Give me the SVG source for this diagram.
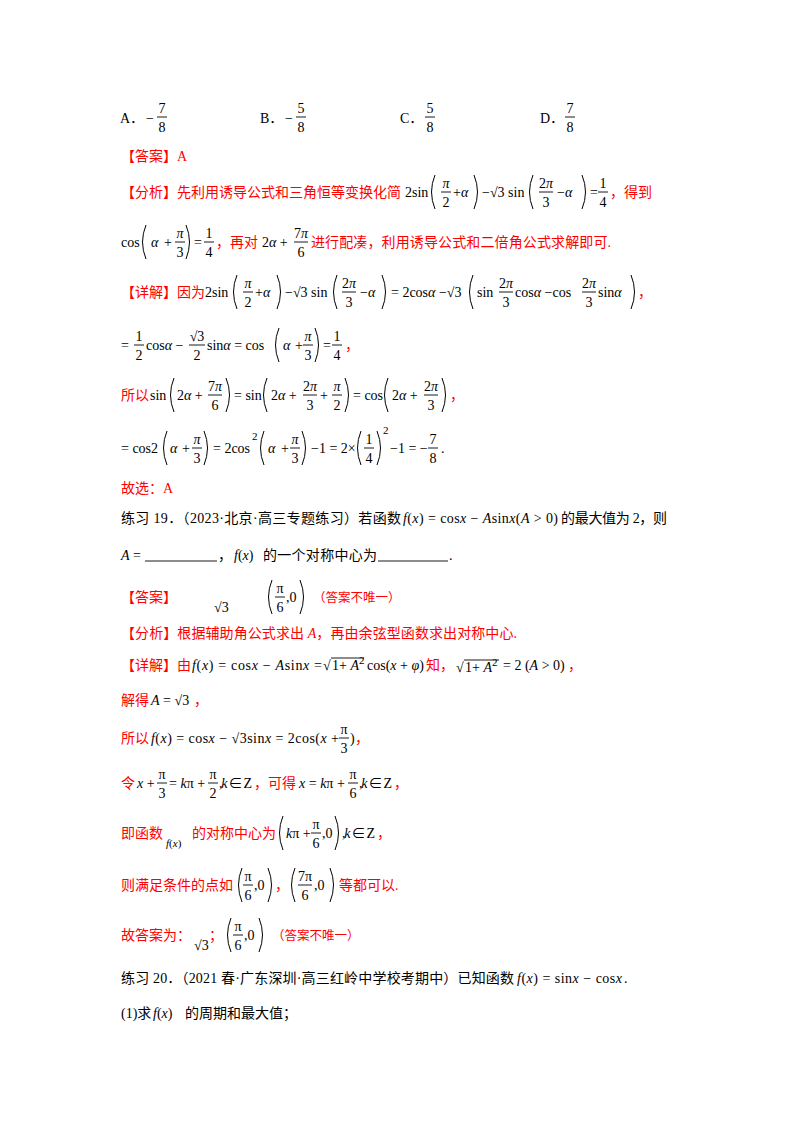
<svg xmlns="http://www.w3.org/2000/svg" xmlns:xlink="http://www.w3.org/1999/xlink" width="800" height="1132" viewBox="0 0 800 1132">
<style>
text{font-family:"Liberation Serif","Noto Sans CJK SC",serif;font-size:14px;fill:#000}
.r{fill:#f00}
.i{font-style:italic}
.n{font-size:14px;text-anchor:middle}
.s{font-size:11px}
.u{font-size:12.5px}
line{stroke:#000;stroke-width:0.9}
.p{fill:none;stroke:#000;stroke-width:1}
</style>
<defs>
<path id="L" class="p" d="M3,-17 q-7,17 0,34"/>
<path id="R" class="p" d="M-3,-17 q7,17 0,34"/>
</defs>
<rect width="800" height="1132" fill="#fff"/>
<g id="options">
<text x="120" y="123">A．</text><text x="146" y="123">−</text><text class="n" x="162" y="113">7</text><line x1="157" x2="167" y1="117" y2="117"/><text class="n" x="162" y="132">8</text>
<text x="260" y="123">B．</text><text x="285" y="123">−</text><text class="n" x="301" y="113">5</text><line x1="296" x2="306" y1="117" y2="117"/><text class="n" x="301" y="132">8</text>
<text x="400" y="123">C．</text><text class="n" x="430" y="113">5</text><line x1="425" x2="435" y1="117" y2="117"/><text class="n" x="430" y="132">8</text>
<text x="540" y="123">D．</text><text class="n" x="570" y="113">7</text><line x1="565" x2="575" y1="117" y2="117"/><text class="n" x="570" y="132">8</text>
</g>
<g id="ans1"><text class="r" x="121" y="161">【答案】A</text></g>
<g id="ana1">
<text class="r" x="121" y="197" textLength="280">【分析】先利用诱导公式和三角恒等变换化简</text>
<text x="405" y="197">2sin</text><use href="#L" x="432" y="192"/><text class="n i" x="446" y="188">π</text><line x1="441" x2="451" y1="192" y2="192"/><text class="n" x="446" y="207">2</text>
<text x="453" y="197">+<tspan class="i">α</tspan></text><use href="#R" x="477" y="192"/>
<text x="482" y="197">−√3 sin</text><use href="#L" x="530" y="192"/><text class="n" x="546" y="188">2<tspan class="i">π</tspan></text><line x1="539" x2="553" y1="192" y2="192"/><text class="n" x="546" y="207">3</text>
<text x="557" y="197">−<tspan class="i">α</tspan></text><use href="#R" x="585" y="192"/><text x="590" y="197">=</text>
<text class="n" x="603" y="188">1</text><line x1="598" x2="608" y1="192" y2="192"/><text class="n" x="603" y="207">4</text>
<text class="r" x="610" y="197">，得到</text>
<text x="121" y="247">cos</text><use href="#L" x="143" y="242"/><text class="i" x="151" y="247">α</text><text x="164" y="247">+</text>
<text class="n i" x="180" y="238">π</text><line x1="175" x2="185" y1="242" y2="242"/><text class="n" x="180" y="257">3</text><use href="#R" x="189" y="242"/>
<text x="194" y="247">=</text><text class="n" x="209" y="238">1</text><line x1="204" x2="214" y1="242" y2="242"/><text class="n" x="209" y="257">4</text>
<text class="r" x="216" y="247">，再对</text><text x="262" y="247">2<tspan class="i">α</tspan> +</text>
<text class="n" x="301" y="238">7<tspan class="i">π</tspan></text><line x1="294" x2="308" y1="242" y2="242"/><text class="n" x="301" y="257">6</text>
<text class="r" x="311" y="247" textLength="300">进行配凑，利用诱导公式和二倍角公式求解即可.</text>
</g>
<g id="detail1">
<text class="r" x="121" y="297">【详解】因为</text>
<text x="205" y="297">2sin</text><use href="#L" x="234" y="292"/><text class="n i" x="248" y="288">π</text><line x1="243" x2="253" y1="292" y2="292"/><text class="n" x="248" y="307">2</text>
<text x="255" y="297">+<tspan class="i">α</tspan></text><use href="#R" x="280" y="292"/>
<text x="285" y="297">−√3 sin</text><use href="#L" x="334" y="292"/><text class="n" x="349" y="288">2<tspan class="i">π</tspan></text><line x1="342" x2="356" y1="292" y2="292"/><text class="n" x="349" y="307">3</text>
<text x="360" y="297">−<tspan class="i">α</tspan></text><use href="#R" x="385" y="292"/>
<text x="391" y="297">= 2cos<tspan class="i">α</tspan> −√3</text><use href="#L" x="470" y="292"/>
<text x="477" y="297">sin</text><text class="n" x="506" y="288">2<tspan class="i">π</tspan></text><line x1="499" x2="513" y1="292" y2="292"/><text class="n" x="506" y="307">3</text>
<text x="515" y="297">cos<tspan class="i">α</tspan> −cos</text><text class="n" x="589" y="288">2<tspan class="i">π</tspan></text><line x1="582" x2="596" y1="292" y2="292"/><text class="n" x="589" y="307">3</text>
<text x="598" y="297">sin<tspan class="i">α</tspan></text><use href="#R" x="634" y="292"/><text class="r" x="638" y="297">，</text>
<text x="121" y="350">=</text><text class="n" x="139" y="341">1</text><line x1="134" x2="144" y1="345" y2="345"/><text class="n" x="139" y="360">2</text>
<text x="146" y="350">cos<tspan class="i">α</tspan> −</text>
<text class="n" x="197" y="341">√3</text><line x1="189" x2="205" y1="345" y2="345"/><text class="n" x="197" y="360">2</text>
<text x="207" y="350">sin<tspan class="i">α</tspan> = cos</text><use href="#L" x="276" y="345"/><text class="i" x="283" y="350">α</text><text x="295" y="350">+</text>
<text class="n i" x="308" y="341">π</text><line x1="303" x2="313" y1="345" y2="345"/><text class="n" x="308" y="360">3</text><use href="#R" x="318" y="345"/>
<text x="323" y="350">=</text><text class="n" x="337" y="341">1</text><line x1="332" x2="342" y1="345" y2="345"/><text class="n" x="337" y="360">4</text><text class="r" x="345" y="350">，</text>
<text class="r" x="121" y="400">所以</text><text x="150" y="400">sin</text><use href="#L" x="171" y="395"/><text x="177" y="400">2<tspan class="i">α</tspan> +</text>
<text class="n" x="215" y="391">7<tspan class="i">π</tspan></text><line x1="208" x2="222" y1="395" y2="395"/><text class="n" x="215" y="410">6</text><use href="#R" x="229" y="395"/>
<text x="234" y="400">= sin</text><use href="#L" x="264" y="395"/><text x="271" y="400">2<tspan class="i">α</tspan> +</text>
<text class="n" x="310" y="391">2<tspan class="i">π</tspan></text><line x1="303" x2="317" y1="395" y2="395"/><text class="n" x="310" y="410">3</text><text x="320" y="400">+</text>
<text class="n i" x="337" y="391">π</text><line x1="332" x2="342" y1="395" y2="395"/><text class="n" x="337" y="410">2</text><use href="#R" x="348" y="395"/>
<text x="353" y="400">= cos</text><use href="#L" x="385" y="395"/><text x="392" y="400">2<tspan class="i">α</tspan> +</text>
<text class="n" x="431" y="391">2<tspan class="i">π</tspan></text><line x1="424" x2="438" y1="395" y2="395"/><text class="n" x="431" y="410">3</text><use href="#R" x="445" y="395"/><text class="r" x="450" y="400">，</text>
<text x="121" y="453">= cos2</text><use href="#L" x="164" y="448"/><text class="i" x="170" y="453">α</text><text x="182" y="453">+</text>
<text class="n i" x="197" y="444">π</text><line x1="192" x2="202" y1="448" y2="448"/><text class="n" x="197" y="463">3</text><use href="#R" x="207" y="448"/>
<text x="213" y="453">= 2cos</text><text class="s" x="252" y="440">2</text><use href="#L" x="261" y="448"/><text class="i" x="268" y="453">α</text><text x="281" y="453">+</text>
<text class="n i" x="295" y="444">π</text><line x1="290" x2="300" y1="448" y2="448"/><text class="n" x="295" y="463">3</text><use href="#R" x="305" y="448"/>
<text x="311" y="453">−1 = 2×</text><use href="#L" x="358" y="448"/><text class="n" x="369" y="444">1</text><line x1="364" x2="374" y1="448" y2="448"/><text class="n" x="369" y="463">4</text><use href="#R" x="380" y="448"/>
<text class="s" x="383" y="434">2</text><text x="390" y="453">−1 = −</text>
<text class="n" x="433" y="444">7</text><line x1="428" x2="438" y1="448" y2="448"/><text class="n" x="433" y="463">8</text><text x="441" y="453">.</text>
<text class="r" x="121" y="493">故选：A</text>
</g>
<g id="q19">
<text x="121" y="523" textLength="280">练习 19．（2023·北京·高三专题练习）若函数</text>
<text class="i" x="403" y="523" textLength="155"><tspan>f</tspan><tspan font-style="normal">(</tspan>x<tspan font-style="normal">) = cos</tspan>x<tspan font-style="normal"> − </tspan>A<tspan font-style="normal">sin</tspan>x<tspan font-style="normal">(</tspan>A<tspan font-style="normal"> &gt; 0)</tspan></text>
<text x="561" y="523" textLength="106">的最大值为 2，则</text>
<text class="i" x="121" y="560">A<tspan font-style="normal"> =</tspan></text><line x1="145" x2="217" y1="561" y2="561"/>
<text x="218" y="560">，</text><text class="i" x="234" y="560">f<tspan font-style="normal">(</tspan>x<tspan font-style="normal">)</tspan></text>
<text x="263" y="560" textLength="114">的一个对称中心为</text><line x1="378" x2="448" y1="561" y2="561"/><text x="449" y="560">.</text>
</g>
<g id="ans19">
<text class="r" x="121" y="602">【答案】</text><text x="214" y="612" font-size="12">√3</text>
<use href="#L" x="269" y="597"/><text class="n" x="280" y="593">π</text><line x1="275" x2="285" y1="597" y2="597"/><text class="n" x="280" y="612">6</text><text x="286" y="602">,0</text><use href="#R" x="303" y="597"/>
<text class="r u" x="313" y="602">（答案不唯一）</text>
<text class="r" x="121" y="638" textLength="396">【分析】根据辅助角公式求出 <tspan class="i">A</tspan>，再由余弦型函数求出对称中心.</text>
</g>
<g id="detail19">
<text class="r" x="121" y="670">【详解】由</text>
<text x="192" y="670" textLength="130"><tspan class="i">f</tspan>(<tspan class="i">x</tspan>) = cos<tspan class="i">x</tspan> − <tspan class="i">A</tspan>sin<tspan class="i">x</tspan> =</text>
<text x="323" y="670">√</text><line x1="331" x2="364" y1="658" y2="658"/><text x="332" y="670">1+ <tspan class="i">A</tspan><tspan class="s" dy="-6">2</tspan></text>
<text x="367" y="670">cos(<tspan class="i">x</tspan> + <tspan class="i">φ</tspan>)</text><text class="r" x="426" y="670">知，</text>
<text x="456" y="672">√</text><line x1="464" x2="499" y1="660" y2="660"/><text x="465" y="672">1+ <tspan class="i">A</tspan><tspan class="s" dy="-6">2</tspan></text>
<text x="503" y="670">= 2 (<tspan class="i">A</tspan> &gt; 0)</text><text class="r" x="568" y="670">，</text>
<text class="r" x="121" y="705">解得</text><text x="151" y="705"><tspan class="i">A</tspan> = √3</text><text class="r" x="194" y="705">，</text>
<text class="r" x="121" y="743">所以</text><text x="151" y="743" textLength="188"><tspan class="i">f</tspan>(<tspan class="i">x</tspan>) = cos<tspan class="i">x</tspan> − √3sin<tspan class="i">x</tspan> = 2cos(<tspan class="i">x</tspan> +</text>
<text class="n" x="344" y="734">π</text><line x1="339" x2="349" y1="738" y2="738"/><text class="n" x="344" y="753">3</text><text x="350" y="743">)</text><text class="r" x="355" y="743">，</text>
<text class="r" x="121" y="788">令</text><text class="i" x="137" y="788">x<tspan font-style="normal"> +</tspan></text>
<text class="n" x="162" y="779">π</text><line x1="157" x2="167" y1="783" y2="783"/><text class="n" x="162" y="798">3</text>
<text x="169" y="788">= <tspan class="i">k</tspan>π +</text><text class="n" x="213" y="779">π</text><line x1="208" x2="218" y1="783" y2="783"/><text class="n" x="213" y="798">2</text>
<text x="219" y="788" textLength="33">,<tspan class="i">k</tspan> ∈ Z</text><text class="r" x="254" y="788">，可得</text>
<text x="299" y="788"><tspan class="i">x</tspan> = <tspan class="i">k</tspan>π +</text><text class="n" x="353" y="779">π</text><line x1="348" x2="358" y1="783" y2="783"/><text class="n" x="353" y="798">6</text>
<text x="359" y="788" textLength="33">,<tspan class="i">k</tspan> ∈ Z</text><text class="r" x="394" y="788">，</text>
<text class="r" x="121" y="838">即函数</text><text class="s i" x="166" y="847">f<tspan font-style="normal">(</tspan>x<tspan font-style="normal">)</tspan></text>
<text class="r" x="192" y="838">的对称中心为</text><use href="#L" x="280" y="833"/><text x="286" y="838"><tspan class="i">k</tspan>π +</text>
<text class="n" x="316" y="829">π</text><line x1="311" x2="321" y1="833" y2="833"/><text class="n" x="316" y="848">6</text><text x="322" y="838">,0</text><use href="#R" x="338" y="833"/>
<text x="342" y="838" textLength="33">,<tspan class="i">k</tspan> ∈ Z</text><text class="r" x="377" y="838">，</text>
<text class="r" x="121" y="890">则满足条件的点如</text><use href="#L" x="239" y="885"/><text class="n" x="248" y="881">π</text><line x1="243" x2="253" y1="885" y2="885"/><text class="n" x="248" y="900">6</text><text x="254" y="890">,0</text><use href="#R" x="271" y="885"/>
<text class="r" x="275" y="890">，</text><use href="#L" x="292" y="885"/><text class="n" x="305" y="881">7π</text><line x1="298" x2="312" y1="885" y2="885"/><text class="n" x="305" y="900">6</text><text x="314" y="890">,0</text><use href="#R" x="333" y="885"/>
<text class="r" x="339" y="890">等都可以.</text>
<text class="r" x="121" y="940">故答案为：</text><text x="194" y="950" font-size="12">√3</text><text class="r" x="209" y="940">；</text>
<use href="#L" x="228" y="935"/><text class="n" x="238" y="931">π</text><line x1="233" x2="243" y1="935" y2="935"/><text class="n" x="238" y="950">6</text><text x="244" y="940">,0</text><use href="#R" x="262" y="935"/>
<text class="r u" x="272" y="940">（答案不唯一）</text>
</g>
<g id="q20">
<text x="121" y="983" textLength="393">练习 20．（2021 春·广东深圳·高三红岭中学校考期中）已知函数</text>
<text x="517" y="983" textLength="105"><tspan class="i">f</tspan>(<tspan class="i">x</tspan>) = sin<tspan class="i">x</tspan> − cos<tspan class="i">x</tspan></text><text x="624" y="983">.</text>
<text x="121" y="1018">(1)求</text><text x="153" y="1018"><tspan class="i">f</tspan>(<tspan class="i">x</tspan>)</text><text x="185" y="1018">的周期和最大值；</text>
</g>
</svg>
